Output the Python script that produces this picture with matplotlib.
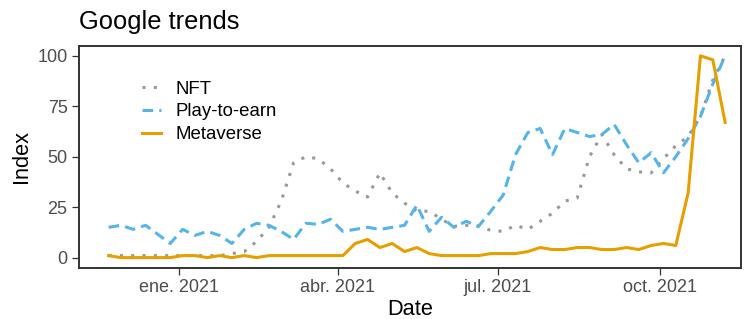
import pandas as pd
import matplotlib
matplotlib.use('Agg')
import matplotlib.pyplot as plt

# weekly Google trends index, Nov 2020 - Nov 2021
dates = pd.date_range('2020-11-22', periods=51, freq='7D')

nft = [1, 1, 1, 1, 1, 1, 1, 1, 1, 1,
       2, 3, 8, 15, 28, 47, 50, 49, 44, 37,
       33, 30, 42, 32, 27, 23, 23, 19, 15.5, 16,
       15.5, 13.5, 13, 16, 14, 18, 22, 28, 29.5, 50,
       61, 51, 44, 42.5, 42, 49, 55.5, 60, 70, 88,
       100]
play_to_earn = [15, 16, 14, 16, 11.5, 7, 14, 11, 13, 11,
                7, 14, 17, 16, 13, 9, 17, 16.5, 19, 13,
                14, 15, 14, 15, 16, 26, 13, 20, 15, 18,
                15.5, 23, 31, 51, 62, 64, 51, 64, 62, 60,
                61, 66, 56, 47, 52, 42, 50, 59, 70, 86,
                100]
metaverse = [1, 0, 0, 0, 0, 0, 1, 1, 0, 1,
             0, 1, 0, 1, 1, 1, 1, 1, 1, 1,
             7, 9, 5, 7, 3, 5, 2, 1, 1, 1,
             1, 2, 2, 2, 3, 5, 4, 4, 5, 5,
             4, 4, 5, 4, 6, 7, 6, 32, 100, 98,
             67]

tick_dates = pd.to_datetime(['2021-01-01', '2021-04-01', '2021-07-01', '2021-10-01'])
tick_labels = ['ene. 2021', 'abr. 2021', 'jul. 2021', 'oct. 2021']

plt.rcParams['font.family'] = ['Liberation Sans', 'DejaVu Sans']

fig = plt.figure(figsize=(7.45, 3.19), dpi=100)
ax = fig.add_axes([0.1056, 0.1608, 0.889, 0.6959])

ax.plot(dates, nft, color='#999999', lw=2.2, linestyle=(0, (1, 2.7)),
        dash_capstyle='butt', label='NFT')
ax.plot(dates, play_to_earn, color='#56B4E9', lw=2.2, linestyle=(0, (3.5, 2)),
        dash_capstyle='butt', label='Play-to-earn')
ax.plot(dates, metaverse, color='#E69F00', lw=2.2, label='Metaverse')

ax.set_xlim(pd.Timestamp('2020-11-05'), pd.Timestamp('2021-11-16'))
ax.set_ylim(-5, 105)
ax.set_yticks([0, 25, 50, 75, 100])
ax.set_xticks(tick_dates)
ax.set_xticklabels(tick_labels)

for s in ax.spines.values():
    s.set_color('#333333')
    s.set_linewidth(1.4)
ax.tick_params(colors='#333333', width=0.9, length=5, labelsize=13,
               labelcolor='#4D4D4D', pad=3)

ax.set_xlabel('Date', fontsize=15.7, labelpad=2)
ax.set_ylabel('Index', fontsize=15.7, labelpad=4)
ax.set_title('Google trends', loc='left', fontsize=18.4, pad=12)

ax.legend(loc='upper left', bbox_to_anchor=(0.095, 0.842), frameon=False,
          fontsize=13.4, handlelength=1.05, handletextpad=0.75,
          labelspacing=0.3, borderpad=0, borderaxespad=0)

fig.savefig('out.png', dpi=100)
